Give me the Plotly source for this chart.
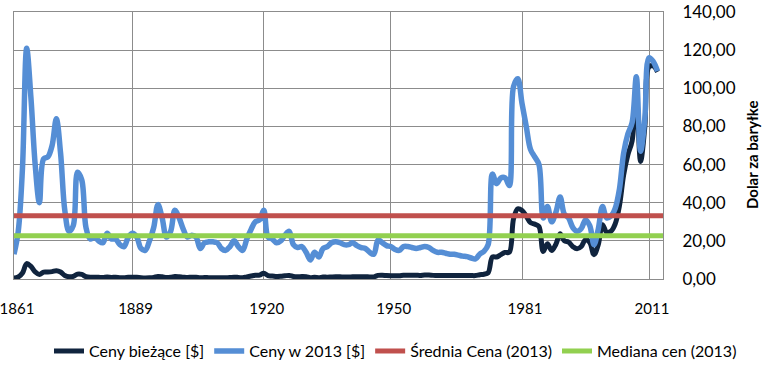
import plotly.graph_objects as go

years = list(range(1861, 2014))

# Ceny bieżące [$] (money of the day)
current_prices = [
    0.49, 1.05, 3.15, 8.06, 6.59, 3.74, 2.41, 3.63, 3.64, 3.86,
    4.34, 3.64, 1.83, 1.17, 1.35, 2.56, 2.42, 1.19, 0.86, 0.95,
    0.86, 0.78, 1.00, 0.84, 0.88, 0.71, 0.67, 0.88, 0.94, 0.87,
    0.67, 0.56, 0.64, 0.84, 1.36, 1.18, 0.79, 0.91, 1.29, 1.19,
    0.96, 0.80, 0.94, 0.86, 0.62, 0.73, 0.72, 0.72, 0.70, 0.61,
    0.61, 0.74, 0.95, 0.81, 0.64, 1.10, 1.56, 1.98, 2.01, 3.07,
    1.73, 1.61, 1.34, 1.43, 1.68, 1.88, 1.30, 1.17, 1.27, 1.19,
    0.65, 0.87, 0.67, 1.00, 0.97, 1.09, 1.18, 1.13, 1.02, 1.02,
    1.14, 1.19, 1.20, 1.21, 1.05, 1.12, 1.90, 1.99, 1.78, 1.71,
    1.71, 1.71, 1.93, 1.93, 1.93, 1.93, 1.90, 2.08, 2.08, 1.90,
    1.80, 1.80, 1.80, 1.80, 1.80, 1.80, 1.80, 1.80, 1.80, 1.80,
    2.24, 2.48, 3.29, 11.58, 11.53, 12.80, 13.92, 14.02, 31.61, 36.83,
    35.93, 32.97, 29.55, 28.78, 27.56, 14.43, 18.44, 14.92, 18.23, 23.73,
    20.00, 19.32, 16.97, 15.82, 17.02, 20.67, 19.09, 12.72, 17.97, 28.50,
    24.44, 25.02, 28.83, 38.27, 54.52, 65.14, 72.39, 97.26, 61.67, 79.50,
    111.26, 111.67, 108.66,
]

# Ceny w 2013 [$] (real, 2013 dollars)
real_prices = [
    13, 25, 58, 121, 95, 60, 40, 63, 64, 70,
    84, 66, 36, 25, 28, 56, 52, 27, 21, 22,
    20, 19, 24, 21, 21, 18, 17, 22, 24, 22,
    16, 15, 20, 27, 39, 32, 22, 25, 36, 32,
    26, 22, 23, 22, 16, 19, 19.5, 19.5, 19, 16,
    15, 17, 20, 17, 15, 21, 26, 30, 31, 36,
    22, 21, 19, 20, 23, 25, 18, 16.5, 17, 14,
    10, 14, 11.5, 16, 17, 19, 19.5, 19, 18, 18,
    19, 17.5, 16.5, 16, 14, 13, 20.5, 19, 17.5, 17,
    15.5, 15, 17, 17, 16.5, 16, 16.5, 17, 16.5, 15,
    14, 14, 13.5, 13, 13, 12.5, 12, 11.7, 11, 10.5,
    13, 14.5, 18, 55, 50, 53, 53, 49, 101, 105,
    92, 80, 68, 64, 60, 32, 38, 30, 35, 43,
    34, 32, 27, 25, 26.5, 31, 28, 18, 26, 38,
    32, 33, 37, 47, 66, 76, 82, 106, 67, 84,
    116, 114, 109,
]

mean_price_2013 = 33.2     # Średnia Cena (2013)
median_price_2013 = 22.7   # Mediana cen (2013)

x_tick_years = [1861, 1889, 1920, 1950, 1981, 2011]
y_tick_values = [0, 20, 40, 60, 80, 100, 120, 140]
y_tick_labels = ["0,00", "20,00", "40,00", "60,00", "80,00", "100,00", "120,00", "140,00"]

FONT = "Lato"
GRID = "#8c8c8c"
x_end = 2014.3

fig = go.Figure()
fig.add_trace(go.Scatter(
    x=years, y=current_prices, mode="lines", name="Ceny bieżące [$]",
    line=dict(color="#10243E", width=5, shape="spline", smoothing=1.0),
))
fig.add_trace(go.Scatter(
    x=years, y=real_prices, mode="lines", name="Ceny w 2013 [$]",
    line=dict(color="#558ED5", width=5.5, shape="spline", smoothing=1.0),
))
fig.add_trace(go.Scatter(
    x=[years[0], x_end], y=[mean_price_2013, mean_price_2013], mode="lines",
    name="Średnia Cena (2013)", line=dict(color="#C0504D", width=5),
))
fig.add_trace(go.Scatter(
    x=[years[0], x_end], y=[median_price_2013, median_price_2013], mode="lines",
    name="Mediana cen (2013)", line=dict(color="#92D050", width=5),
))

fig.update_layout(
    width=763, height=365,
    margin=dict(l=14, r=100, t=12, b=86, autoexpand=False),
    paper_bgcolor="white", plot_bgcolor="white",
    font=dict(family=FONT, size=16, color="black"),
    showlegend=True,
    legend=dict(
        orientation="h", xref="paper", yref="paper",
        x=(742 - 14) / 649, xanchor="right", y=-0.27, yanchor="middle",
        font=dict(family=FONT, size=16, color="black"),
        itemwidth=30, tracegroupgap=0, bgcolor="rgba(0,0,0,0)",
    ),
    xaxis=dict(
        range=[1861, x_end], tickmode="array", tickvals=x_tick_years,
        ticktext=[str(v) for v in x_tick_years],
        showgrid=True, gridcolor=GRID, gridwidth=1,
        showline=True, linecolor=GRID, linewidth=1, mirror=True,
        ticks="", ticklabelstandoff=16, ticklabelshift=3, zeroline=False,
        ticklabeloverflow="allow", automargin=False,
        tickfont=dict(family=FONT, size=15),
    ),
    yaxis=dict(
        range=[0, 140], side="right", tickmode="array",
        tickvals=y_tick_values, ticktext=y_tick_labels,
        showgrid=True, gridcolor=GRID, gridwidth=1,
        showline=True, linecolor=GRID, linewidth=1, mirror=True,
        ticks="", ticklabelstandoff=15, zeroline=False,
        ticklabeloverflow="allow", automargin=False,
        tickfont=dict(family=FONT, size=17),
    ),
    annotations=[dict(
        text="<b>Dolar za baryłke</b>", xref="paper", yref="paper",
        x=(752 - 14) / 649, y=0.468, xanchor="center", yanchor="middle",
        textangle=-90, showarrow=False, font=dict(family=FONT, size=15, color="black"),
    )],
)

fig.write_html(
    "out.html",
    config={"displayModeBar": False},
    post_script="document.body.style.margin='0';document.body.style.padding='0';",
)
